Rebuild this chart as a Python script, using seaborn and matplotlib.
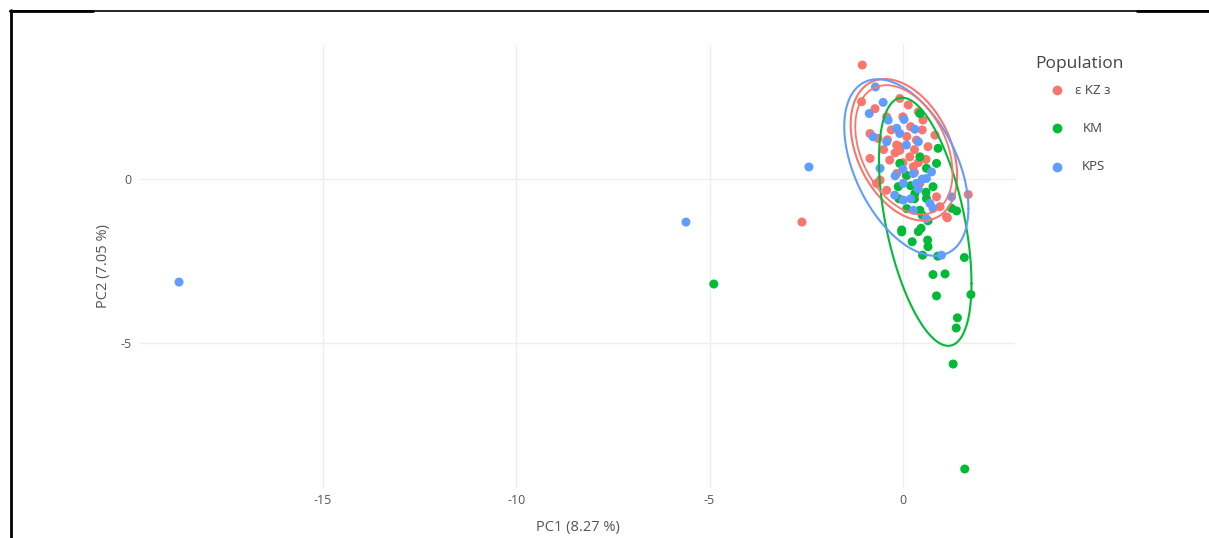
import numpy as np
import pandas as pd
import matplotlib
matplotlib.use("Agg")
import matplotlib.pyplot as plt
from matplotlib.lines import Line2D
import seaborn as sns

# ---------------- data ----------------
pop_labels = ["ε KZ з", "KM", "KPS"]
palette_colors = ["#F8766D", "#00BA38", "#619CFF"]

kz_pc1 = [-2.61, 1.69, 1.15, -1.05, -1.07, -0.72, -0.08, 0.14, 0.40, 0.52, -0.85, -0.64,
          -0.85, -0.34, 0.83, 0.65, -0.59, 0.18, -0.08, 0.27, -0.16, 0.44, 0.87, 1.13,
          -0.42, 0.96, -0.68, -0.16, 0.35, -0.42,
          -0.30, 0.10, 0.30, -0.20, 0.00, 0.40, -0.40, 0.20, 0.50, -0.10, 0.30, 0.60,
          -0.50, 0.10, 0.00]
kz_pc2 = [-1.31, -0.47, -1.18, 3.48, 2.36, 2.15, 2.46, 2.26, 2.05, 1.80, 1.39, 1.24,
          0.63, 0.58, 1.34, 0.99, -0.03, 0.68, 0.88, 0.38, 0.17, -0.13, -0.54, -1.15,
          -0.34, -0.84, -0.13, 1.04, 1.19, 1.90,
          1.50, 1.30, 0.90, 0.80, 0.50, 0.50, 1.20, 1.60, 1.50, 1.00, 0.20, 0.60,
          0.90, 0.10, 1.90]

km_pc1 = [-4.89, 1.60, -0.03, 0.47, 0.24, 0.64, 0.65, 0.51, 0.90, 1.59, 0.78, 1.09,
          0.87, 1.76, 1.41, 1.38, 1.30, 0.65, 1.26, 1.39, 0.44, 0.91, 0.44, -0.08,
          0.87, 0.61, 0.09, -0.12, 0.31, 0.78, 0.61, 0.44, -0.03,
          0.30, 0.10, 0.50, 0.20, -0.10, 0.60, 0.40]
km_pc2 = [-3.20, -8.84, -1.61, -1.50, -1.91, -1.86, -2.06, -2.32, -2.35, -2.39, -2.91, -2.89,
          -3.56, -3.52, -4.23, -4.54, -5.64, -1.27, -0.89, -0.97, 2.00, 0.94, 0.68, 0.48,
          0.48, 0.33, 0.12, -0.23, -0.44, -0.23, -0.59, -0.95, -1.55,
          -0.60, -0.90, -1.10, -0.20, -0.60, -0.40, -1.60]

kps_pc1 = [-18.72, -5.61, -2.43, 1.00, -0.71, -0.51, -0.87, -0.38, 0.03, -0.16, -0.08, 0.31,
           -0.77, -0.42, 0.09, 0.40, -0.59, 0.27, 0.74, 0.01, 0.35, 0.61, -0.21, 0.01,
           0.70, 1.26, 0.27, 0.78,
           0.40, 0.20, 0.50, 0.00, -0.20, 0.60]
kps_pc2 = [-3.14, -1.31, 0.37, -2.32, 2.81, 2.34, 2.00, 1.80, 1.82, 1.55, 1.39, 1.52,
           1.29, 1.14, 1.04, 1.14, 0.33, 0.17, 0.22, -0.13, -0.13, 0.02, -0.49, -0.64,
           -0.74, -0.54, -0.95, -0.89,
           -0.30, -0.60, 0.00, 0.30, 0.10, -1.20]

x_ticks = [-15, -10, -5, 0]
y_ticks = [0, -5]
x_title = "PC1 (8.27 %)"
y_title = "PC2 (7.05 %)"
legend_title = "Population"

df = pd.DataFrame({
    "PC1": kz_pc1 + km_pc1 + kps_pc1,
    "PC2": kz_pc2 + km_pc2 + kps_pc2,
    "Population": [pop_labels[0]] * len(kz_pc1) + [pop_labels[1]] * len(km_pc1)
                  + [pop_labels[2]] * len(kps_pc1),
})


def cov_trob(x, nu=5, maxit=25, tol=0.01):
    n, p = x.shape
    loc = x.mean(axis=0)
    w = np.ones(n)
    for _ in range(maxit):
        w0 = w
        X = x - loc
        sX = np.linalg.svd(np.sqrt(w / w.sum())[:, None] * X, full_matrices=False)
        d, vt = sX[1], sX[2]
        wX = X @ vt.T @ np.diag(1.0 / d)
        Q = (wX ** 2).sum(axis=1)
        w = (nu + p) / (nu + Q)
        loc = (w[:, None] * x).sum(axis=0) / w.sum()
        if np.all(np.abs(w - w0) < tol):
            break
    X = x - loc
    cov = (np.sqrt(w)[:, None] * X).T @ (np.sqrt(w)[:, None] * X) / n
    return loc, cov


def ellipse_xy(xs, ys, level=0.95, segments=120):
    pts = np.column_stack([xs, ys])
    loc, cov = cov_trob(pts)
    dfd = len(xs) - 1
    fq = dfd / 2.0 * ((1 - level) ** (-2.0 / dfd) - 1)  # F(2, dfd) quantile
    radius = np.sqrt(2 * fq)
    ch = np.linalg.cholesky(cov).T
    t = np.linspace(0, 2 * np.pi, segments + 1)
    circ = np.column_stack([np.cos(t), np.sin(t)])
    e = loc + radius * circ @ ch
    return e[:, 0], e[:, 1]


# ---------------- figure ----------------
sns.set_style("white")
plt.rcParams["font.family"] = ["Open Sans", "DejaVu Sans"]

fig = plt.figure(figsize=(12.09, 5.38), dpi=100)
W, H = 1209, 538
ax = fig.add_axes([140 / W, 1 - 488 / H, (1015 - 140) / W, (488 - 45) / H])

grid_c = "#eeeeee"
for v in x_ticks:
    ax.axvline(v, color=grid_c, lw=1, zorder=0)
for v in y_ticks:
    ax.axhline(v, color=grid_c, lw=1, zorder=0)

sns.scatterplot(data=df, x="PC1", y="PC2", hue="Population", hue_order=pop_labels,
                palette=palette_colors, s=42, linewidth=0, ax=ax, zorder=3, legend=False)

groups = [(kz_pc1, kz_pc2, palette_colors[0]),
          (km_pc1, km_pc2, palette_colors[1]),
          (kps_pc1, kps_pc2, palette_colors[2])]
for xs, ys, c in groups:
    ex, ey = ellipse_xy(np.array(xs), np.array(ys))
    ax.plot(ex, ey, color=c, lw=1.5, zorder=4)
# inner companion outline of the first group (drawn doubled in the reference)
ex, ey = ellipse_xy(np.array(kz_pc1), np.array(kz_pc2), level=0.92)
ax.plot(ex, ey, color=palette_colors[0], lw=1.3, zorder=4)

ax.set_xlim(-19.73, 2.90)
ax.set_ylim(-9.42, 4.09)
ax.set_xticks(x_ticks)
ax.set_yticks(y_ticks)
ax.set_xticklabels([str(v) for v in x_ticks])
ax.set_yticklabels([str(v) for v in y_ticks])
ax.tick_params(axis="both", length=0, labelsize=9, colors="#555555")
ax.tick_params(axis="x", pad=4)
ax.tick_params(axis="y", pad=6)
ax.set_xlabel(x_title, fontsize=10.5, color="#555555", labelpad=10)
ax.set_ylabel(y_title, fontsize=10.5, color="#555555", labelpad=7)
for s in ax.spines.values():
    s.set_visible(False)
ax.patch.set_alpha(0)

# legend (plotly style), placed by hand in figure pixels
fig.text(1035 / W, 1 - 64 / H, legend_title, fontsize=12.5, color="#444444",
         ha="left", va="center")
entry_y = [90, 128, 167]
for lab, c, yy in zip(pop_labels, palette_colors, entry_y):
    fig.add_artist(Line2D([1057 / W], [1 - yy / H], marker="o", linestyle="",
                          markersize=7, markerfacecolor=c, markeredgewidth=0,
                          transform=fig.transFigure))
    fig.text(1093 / W, 1 - yy / H, lab, fontsize=9.5, color="#444444",
             ha="center", va="center")

# page border lines
fig.add_artist(Line2D([10 / W, 1], [1 - 10.5 / H, 1 - 10.5 / H], color="black", lw=1.2,
                      transform=fig.transFigure))
fig.add_artist(Line2D([10 / W, 93 / W], [1 - 11 / H, 1 - 11 / H], color="black", lw=2,
                      transform=fig.transFigure))
fig.add_artist(Line2D([1137 / W, 1], [1 - 11 / H, 1 - 11 / H], color="black", lw=2,
                      transform=fig.transFigure))
fig.add_artist(Line2D([11 / W, 11 / W], [0, 1 - 10 / H], color="black", lw=2,
                      transform=fig.transFigure))

fig.savefig("out.png", dpi=100)
